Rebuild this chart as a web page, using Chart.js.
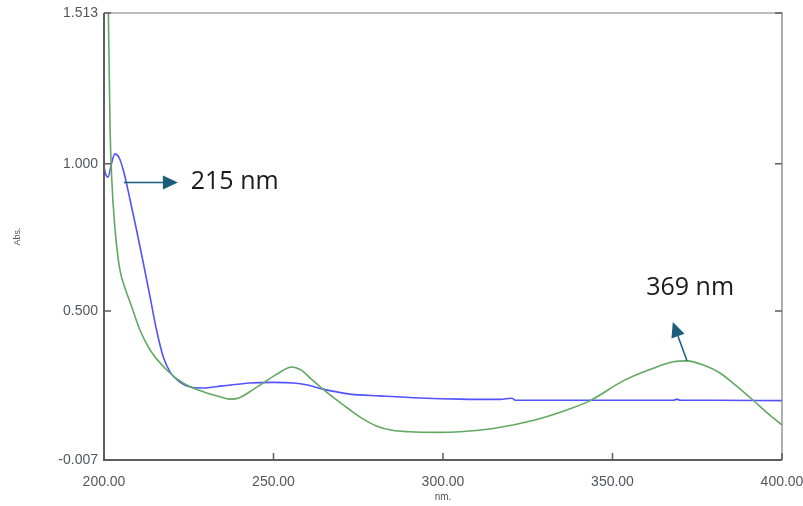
<!DOCTYPE html>
<html>
<head>
<meta charset="utf-8">
<script src="https://cdn.jsdelivr.net/npm/chart.js@4/dist/chart.umd.min.js"></script>
<style>
  body { margin: 0; background: #fff; }
  canvas { display: block; }
</style>
</head>
<body>
<canvas id="spectrum" width="803" height="506"></canvas>
<script>
// blue scan
const waveBlue = [200, 200.5, 201.2, 202.2, 203.2, 204.5, 205.9, 207.7, 209.6, 211.6, 213.6, 215.5, 217.5, 219.5, 222.4, 225.4, 229, 235, 243, 250, 256, 260, 264.6, 272.6, 281.4, 293.2, 305, 316.8, 320.3, 321.5, 340, 360, 368, 369, 370, 380, 400];
const absBlue = [0.99, 0.965, 0.955, 1.0, 1.034, 1.02, 0.97, 0.877, 0.775, 0.663, 0.547, 0.435, 0.343, 0.292, 0.258, 0.241, 0.238, 0.245, 0.255, 0.257, 0.255, 0.248, 0.234, 0.217, 0.211, 0.204, 0.2, 0.199, 0.203, 0.196, 0.196, 0.196, 0.196, 0.2, 0.196, 0.196, 0.195];

// green scan
const waveGreen = [201.0, 201.8, 202.3, 203.2, 204.2, 204.9, 205.7, 208.2, 210.6, 213.6, 218.5, 223.3, 230.3, 234, 237.2, 240, 243, 247, 251, 255.4, 258, 261, 264.6, 268.5, 272.6, 276.5, 280.5, 285, 290, 298, 305, 315.3, 327.1, 336.5, 343.4, 353.3, 362, 368, 372, 377, 381.7, 386, 391.4, 396, 400];
const absGreen = [1.75, 1.115, 0.945, 0.785, 0.675, 0.628, 0.595, 0.513, 0.435, 0.367, 0.299, 0.255, 0.221, 0.209, 0.2, 0.205, 0.225, 0.255, 0.285, 0.309, 0.3, 0.27, 0.234, 0.198, 0.163, 0.132, 0.108, 0.094, 0.089, 0.087, 0.089, 0.101, 0.129, 0.163, 0.195, 0.263, 0.305, 0.327, 0.33, 0.315, 0.289, 0.25, 0.197, 0.15, 0.112];

const yTicks = [-0.007, 0.5, 1.0, 1.513];
const xTicks = [200, 250, 300, 350, 400];

// annotations: [text, text x, text y, arrow from x, from y, to x, to y]
const notes = [
  ["215 nm", 225.6, 0.939, 205.9, 0.937, 221.8, 0.937],
  ["369 nm", 372.9, 0.578, 372.0, 0.330, 367.8, 0.462]
];

function points(xs, ys) {
  return xs.map((v, i) => ({ x: v, y: ys[i] }));
}

const framePlugin = {
  id: "frame",
  afterDraw(chart) {
    const { ctx, chartArea: a, scales: { x, y } } = chart;
    ctx.save();
    ctx.strokeStyle = "#7a7a7a";
    ctx.lineWidth = 1.2;
    ctx.beginPath();
    ctx.moveTo(a.left, a.top);
    ctx.lineTo(a.right, a.top);
    ctx.lineTo(a.right, a.bottom);
    ctx.stroke();
    ctx.strokeStyle = "#5e5e5e";
    ctx.lineWidth = 2;
    ctx.beginPath();
    ctx.moveTo(a.left, a.top);
    ctx.lineTo(a.left, a.bottom);
    ctx.lineTo(a.right, a.bottom);
    ctx.stroke();
    // inward tick marks
    ctx.lineWidth = 1.5;
    ctx.beginPath();
    y.ticks.forEach(t => {
      const py = y.getPixelForValue(t.value);
      ctx.moveTo(a.left, py);
      ctx.lineTo(a.left + 7, py);
      ctx.moveTo(a.right, py);
      ctx.lineTo(a.right - 7, py);
    });
    x.ticks.forEach(t => {
      const px = x.getPixelForValue(t.value);
      ctx.moveTo(px, a.bottom);
      ctx.lineTo(px, a.bottom - 7);
    });
    ctx.stroke();

    // arrows + labels
    notes.forEach(n => {
      const x0 = x.getPixelForValue(n[3]), y0 = y.getPixelForValue(n[4]);
      const x1 = x.getPixelForValue(n[5]), y1 = y.getPixelForValue(n[6]);
      const ang = Math.atan2(y1 - y0, x1 - x0);
      const head = 15, half = 7;
      ctx.strokeStyle = "#1d5d7c";
      ctx.fillStyle = "#1d5d7c";
      ctx.lineWidth = 1.5;
      ctx.beginPath();
      ctx.moveTo(x0, y0);
      ctx.lineTo(x1 - Math.cos(ang) * head, y1 - Math.sin(ang) * head);
      ctx.stroke();
      ctx.beginPath();
      ctx.moveTo(x1, y1);
      const bx = x1 - Math.cos(ang) * head, by = y1 - Math.sin(ang) * head;
      ctx.lineTo(bx + Math.sin(ang) * half, by - Math.cos(ang) * half);
      ctx.lineTo(bx - Math.sin(ang) * half, by + Math.cos(ang) * half);
      ctx.closePath();
      ctx.fill();

      ctx.fillStyle = "#1a1a1a";
      ctx.font = "25px 'Open Sans', sans-serif";
      ctx.textBaseline = "middle";
      ctx.textAlign = n === notes[0] ? "left" : "center";
      ctx.fillText(n[0], x.getPixelForValue(n[1]), y.getPixelForValue(n[2]));
    });
    ctx.restore();
  }
};

const tickFont = { family: "'Liberation Sans', Arial, sans-serif", size: 14 };

new Chart(document.getElementById("spectrum"), {
  type: "scatter",
  data: {
    datasets: [
      {
        data: points(waveGreen, absGreen),
        showLine: true,
        borderColor: "#62a862",
        borderWidth: 1.6,
        pointRadius: 0,
        cubicInterpolationMode: "monotone",
      },
      {
        data: points(waveBlue, absBlue),
        showLine: true,
        borderColor: "#5252ff",
        borderWidth: 1.6,
        pointRadius: 0,
        cubicInterpolationMode: "monotone",
      },
    ],
  },
  options: {
    responsive: false,
    animation: false,
    devicePixelRatio: 1,
    layout: { padding: { top: 13, right: 21, left: 0, bottom: 0 } },
    plugins: { legend: { display: false }, tooltip: { enabled: false } },
    scales: {
      x: {
        type: "linear",
        min: 200,
        max: 400,
        afterFit: s => { s.height = 46; s.paddingLeft = 0; s.paddingRight = 0; },
        afterBuildTicks: s => { s.ticks = xTicks.map(v => ({ value: v })); },
        grid: { display: false, drawTicks: false },
        border: { display: false },
        ticks: { color: "#555560", font: tickFont, padding: 14, callback: v => v.toFixed(2) },
        title: { display: true, text: "nm.", color: "#555560", font: { family: "'Liberation Sans', Arial", size: 10 }, padding: { top: 0, bottom: 3 } },
      },
      y: {
        min: -0.007,
        max: 1.513,
        afterFit: s => { s.width = 104; s.paddingTop = 0; s.paddingBottom = 0; },
        afterBuildTicks: s => { s.ticks = yTicks.map(v => ({ value: v })); },
        grid: { display: false, drawTicks: false },
        border: { display: false },
        ticks: { color: "#555560", font: tickFont, padding: 6, autoSkip: false, callback: v => v.toFixed(3) },
        title: { display: true, text: "Abs.", color: "#555560", font: { family: "'Liberation Sans', Arial", size: 9 }, padding: { top: 12, bottom: 0 } },
      },
    },
  },
  plugins: [framePlugin],
});
</script>
</body>
</html>
